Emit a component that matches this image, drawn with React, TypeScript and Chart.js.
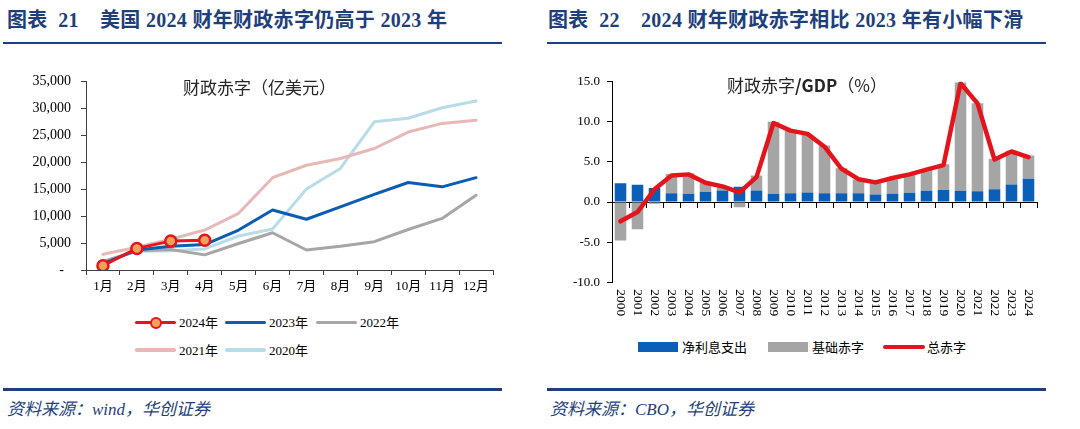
import React, { useEffect, useRef } from 'react';
import { Chart, registerables } from 'chart.js';

Chart.register(...registerables);

// ---------- data: left chart (cumulative fiscal deficit, 100m USD) ----------
const months = ['1月', '2月', '3月', '4月', '5月', '6月', '7月', '8月', '9月', '10月', '11月', '12月'];
const fy2024 = [800, 4000, 5350, 5500];
const fy2023 = [1200, 3700, 4400, 4700, 7400, 11100, 9400, 11700, 14000, 16200, 15400, 17100];
const fy2022 = [1600, 3550, 3800, 2800, 4900, 6900, 3700, 4400, 5250, 7500, 9550, 13850];
const fy2021 = [2900, 4200, 5700, 7400, 10500, 17100, 19400, 20650, 22500, 25550, 27150, 27750];
const fy2020 = [1500, 3450, 3550, 3900, 6300, 7600, 15000, 18800, 27450, 28100, 30050, 31300];
const leftYTicks = [0, 5000, 10000, 15000, 20000, 25000, 30000, 35000];

// ---------- data: right chart (deficit / GDP, %) ----------
const years = ['2000', '2001', '2002', '2003', '2004', '2005', '2006', '2007', '2008', '2009', '2010', '2011', '2012',
  '2013', '2014', '2015', '2016', '2017', '2018', '2019', '2020', '2021', '2022', '2023', '2024'];
const netInterest = [2.35, 2.15, 1.75, 1.1, 1.05, 1.25, 1.45, 1.9, 1.45, 1.0, 1.1, 1.2, 1.1, 1.1, 1.1, 0.95, 1.05, 1.15, 1.4, 1.5, 1.4, 1.35, 1.6, 2.2, 2.9];
const primaryDeficit = [-4.8, -3.4, -0.2, 2.4, 2.55, 1.15, 0.5, -0.65, 1.85, 9.0, 7.8, 7.2, 5.95, 3.1, 1.7, 1.45, 1.75, 2.25, 2.6, 3.2, 13.5, 10.95, 3.8, 4.2, 2.9];
const totalDeficit = [-2.4, -1.25, 1.6, 3.3, 3.45, 2.4, 1.95, 1.2, 3.1, 9.85, 8.9, 8.5, 6.9, 4.15, 2.85, 2.45, 3.0, 3.45, 4.05, 4.6, 14.8, 12.3, 5.3, 6.3, 5.6];
const rightYTicks = [-10, -5, 0, 5, 10, 15];

// ---------- styles ----------
const SERIF = '"Liberation Serif", "Noto Sans CJK SC", serif';
const CJK = '"Noto Sans CJK SC", sans-serif';
const NAVY = '#1E3F7C';
const AXIS = '#404040';
const C2024 = '#E8141B';
const C2024FILL = '#F4A25A';
const C2023 = '#0B5CB5';
const C2022 = '#A6A6A6';
const C2021 = '#E6B9B8';
const C2020 = '#B7DDE8';
const BAR_BLUE = '#0B5FB7';
const BAR_GRAY = '#A5A5A5';
const LINE_RED = '#E5141B';

const rotatedLabels = {
  id: 'rotatedLabels',
  afterDraw(chart: any) {
    const xs = chart.scales.x;
    const { ctx, chartArea } = chart;
    ctx.save();
    ctx.font = '13.5px "Liberation Serif", serif';
    ctx.fillStyle = '#000';
    ctx.textAlign = 'left';
    ctx.textBaseline = 'middle';
    years.forEach((lab, i) => {
      const x = xs.getPixelForValue(i);
      ctx.save();
      ctx.translate(x, chartArea.bottom + 7);
      ctx.rotate(Math.PI / 2);
      ctx.fillText(lab, 0, 0);
      ctx.restore();
    });
    ctx.restore();
  },
};

function LeftChart() {
  const ref = useRef<HTMLCanvasElement>(null);
  useEffect(() => {
    const ctx = ref.current!;
    const mk = (label: string, data: number[], color: string) => ({
      label, data, borderColor: color, backgroundColor: color, borderWidth: 3, pointRadius: 0,
      borderJoinStyle: 'round' as const, borderCapStyle: 'round' as const, tension: 0,
    });
    const chart = new Chart(ctx, {
      type: 'line',
      data: {
        labels: months,
        datasets: [
          {
            ...mk('2024年', fy2024, C2024),
            pointRadius: 5.5, pointBackgroundColor: C2024FILL, pointBorderColor: C2024, pointBorderWidth: 2.5,
          },
          mk('2023年', fy2023, C2023),
          mk('2022年', fy2022, C2022),
          mk('2021年', fy2021, C2021),
          mk('2020年', fy2020, C2020),
        ],
      },
      options: {
        animation: false,
        responsive: false,
        maintainAspectRatio: false,
        layout: { padding: { top: 21, right: 17, left: 0, bottom: 0 } },
        plugins: { legend: { display: false }, tooltip: { enabled: false }, title: { display: false } },
        scales: {
          x: {
            offset: true,
            grid: { offset: true, drawOnChartArea: false, tickLength: 5, color: AXIS },
            border: { color: AXIS, width: 1 },
            ticks: { font: { family: SERIF, size: 13 }, color: '#000', padding: 4, maxRotation: 0, autoSkip: false },
            afterFit: (s: any) => { s.height = 40; },
          },
          y: {
            min: 0, max: 35000,
            afterBuildTicks: (s: any) => { s.ticks = leftYTicks.map((v) => ({ value: v })); },
            grid: { drawOnChartArea: false, tickLength: 5, color: AXIS },
            border: { color: AXIS, width: 1 },
            ticks: {
              font: { family: SERIF, size: 14 }, color: '#000', padding: 10,
              callback: (v: any) => (Number(v) === 0 ? '-  ' : Number(v).toLocaleString('en-US')),
            },
            afterFit: (s: any) => { s.width = 86; },
          },
        },
      },
    });
    return () => chart.destroy();
  }, []);
  return <canvas ref={ref} width={510} height={250} style={{ position: 'absolute', left: 0, top: 60, width: 510, height: 250 }} />;
}

function RightChart() {
  const ref = useRef<HTMLCanvasElement>(null);
  useEffect(() => {
    const ctx = ref.current!;
    const chart = new Chart(ctx, {
      type: 'bar',
      data: {
        labels: years,
        datasets: [
          {
            type: 'line', label: '总赤字', data: totalDeficit, borderColor: LINE_RED, backgroundColor: LINE_RED,
            borderWidth: 4.5, pointRadius: 0, order: 0, stack: 'total', tension: 0,
            borderJoinStyle: 'round', borderCapStyle: 'round',
          } as any,
          {
            type: 'bar', label: '净利息支出', data: netInterest, backgroundColor: BAR_BLUE, order: 1, stack: 's',
            barPercentage: 0.68, categoryPercentage: 1,
          },
          {
            type: 'bar', label: '基础赤字', data: primaryDeficit, backgroundColor: BAR_GRAY, order: 1, stack: 's',
            barPercentage: 0.68, categoryPercentage: 1,
          },
        ],
      },
      options: {
        animation: false,
        responsive: false,
        maintainAspectRatio: false,
        layout: { padding: { top: 21.7, right: 21, left: 0, bottom: 0 } },
        plugins: { legend: { display: false }, tooltip: { enabled: false }, title: { display: false } },
        scales: {
          x: {
            stacked: true,
            grid: { display: false },
            border: { display: false },
            ticks: { display: false },
            afterFit: (s: any) => { s.height = 47.7; },
          },
          x2: {
            type: 'category',
            position: { y: 0 } as any,
            offset: true,
            z: 1,
            grid: { offset: true, drawOnChartArea: false, tickLength: 5, color: '#000' },
            border: { color: '#000', width: 1 },
            ticks: { display: false },
          } as any,
          y: {
            stacked: true,
            min: -10, max: 15,
            afterBuildTicks: (s: any) => { s.ticks = rightYTicks.map((v) => ({ value: v })); },
            grid: { drawOnChartArea: false, tickLength: 5, color: '#000' },
            border: { color: '#000', width: 1 },
            ticks: {
              font: { family: SERIF, size: 13 }, color: '#000', padding: 7,
              callback: (v: any) => Number(v).toFixed(1),
            },
            afterFit: (s: any) => { s.width = 64; },
          },
        },
      },
      plugins: [rotatedLabels],
    });
    return () => chart.destroy();
  }, []);
  return <canvas ref={ref} width={510} height={270} style={{ position: 'absolute', left: 548, top: 60, width: 510, height: 270 }} />;
}

const abs = (s: React.CSSProperties): React.CSSProperties => ({ position: 'absolute', ...s });

function LegLine({ x, y, color, h = 3.5, marker = false }: { x: number; y: number; color: string; h?: number; marker?: boolean }) {
  return (
    <>
      <div style={abs({ left: x, top: y - h / 2, width: 41, height: h, background: color, borderRadius: h / 2 })} />
      {marker && (
        <div style={abs({ left: x + 20.5 - 6, top: y - 6, width: 12, height: 12, boxSizing: 'border-box', borderRadius: '50%', background: C2024FILL, border: `2.5px solid ${C2024}` })} />
      )}
    </>
  );
}

function LegText({ x, y, text, font = SERIF, size = 13 }: { x: number; y: number; text: string; font?: string; size?: number }) {
  return (
    <div style={abs({ left: x, top: y - size / 2 - 1, fontFamily: font, fontSize: size, lineHeight: `${size + 2}px`, color: '#000', whiteSpace: 'nowrap' })}>{text}</div>
  );
}

export default function App() {
  const titleStyle: React.CSSProperties = {
    fontFamily: SERIF, fontWeight: 700, fontSize: 20, letterSpacing: 0.3, color: NAVY, whiteSpace: 'pre', lineHeight: '24px',
  };
  const footStyle: React.CSSProperties = {
    fontFamily: SERIF, fontStyle: 'italic', fontSize: 17, color: NAVY, whiteSpace: 'pre', lineHeight: '20px',
  };
  return (
    <div style={abs({ left: 0, top: 0, width: 1080, height: 429, background: '#fff', overflow: 'hidden' })}>
      {/* headers */}
      <div style={abs({ left: 7, top: 8, ...titleStyle })}>{'图表  21    美国 2024 财年财政赤字仍高于 2023 年'}</div>
      <div style={abs({ left: 3, top: 41.5, width: 499, height: 2.5, background: NAVY })} />
      <div style={abs({ left: 548, top: 8, ...titleStyle })}>{'图表  22    2024 财年财政赤字相比 2023 年有小幅下滑'}</div>
      <div style={abs({ left: 547, top: 41.5, width: 499, height: 2.5, background: NAVY })} />

      {/* charts */}
      <LeftChart />
      <RightChart />

      {/* in-chart titles */}
      <div style={abs({ left: 183, top: 77, fontFamily: CJK, fontSize: 17, lineHeight: '20px', color: '#262626', whiteSpace: 'nowrap' })}>财政赤字（亿美元）</div>
      <div style={abs({ left: 727, top: 75, fontFamily: CJK, fontSize: 17, lineHeight: '20px', color: '#262626', whiteSpace: 'nowrap' })}>
        财政赤字<span style={{ fontWeight: 700 }}>/GDP</span>（%）
      </div>

      {/* left legend */}
      <LegLine x={135} y={322.7} color={C2024} marker />
      <LegText x={179} y={322.7} text="2024年" />
      <LegLine x={225} y={322.7} color={C2023} />
      <LegText x={269} y={322.7} text="2023年" />
      <LegLine x={316} y={322.7} color={C2022} />
      <LegText x={360} y={322.7} text="2022年" />
      <LegLine x={135} y={350} color={C2021} />
      <LegText x={179} y={350} text="2021年" />
      <LegLine x={225} y={350} color={C2020} />
      <LegText x={269} y={350} text="2020年" />

      {/* right legend */}
      <div style={abs({ left: 638, top: 341.5, width: 40, height: 10.5, background: BAR_BLUE })} />
      <LegText x={682} y={346.7} text="净利息支出" font={CJK} size={13} />
      <div style={abs({ left: 768, top: 341.5, width: 40, height: 10.5, background: BAR_GRAY })} />
      <LegText x={812} y={346.7} text="基础赤字" font={CJK} size={13} />
      <div style={abs({ left: 883, top: 344.7, width: 42, height: 4, background: LINE_RED, borderRadius: 2 })} />
      <LegText x={927} y={346.7} text="总赤字" font={CJK} size={13} />

      {/* footers */}
      <div style={abs({ left: 3, top: 388, width: 499, height: 2.5, background: NAVY })} />
      <div style={abs({ left: 7, top: 400, ...footStyle })}>资料来源：wind，华创证券</div>
      <div style={abs({ left: 547, top: 388, width: 499, height: 2.5, background: NAVY })} />
      <div style={abs({ left: 550, top: 400, ...footStyle })}>资料来源：CBO，华创证券</div>
    </div>
  );
}
